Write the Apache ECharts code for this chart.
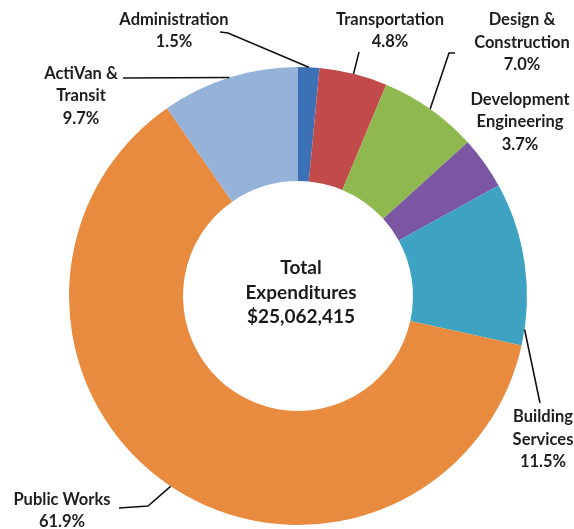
<!DOCTYPE html>
<html>
<head>
<meta charset="utf-8">
<script src="https://cdn.jsdelivr.net/npm/echarts@6/dist/echarts.min.js"></script>
<style>
html,body{margin:0;padding:0;background:#fff;}
#chart{width:574px;height:529px;}
</style>
</head>
<body>
<div id="chart"></div>
<script>
// ---- data ----
const categories = ['Administration', 'Transportation', 'Design &\nConstruction', 'Development\nEngineering', 'Building\nServices', 'Public Works', 'ActiVan &\nTransit'];
const percents = [1.5, 4.8, 7.0, 3.7, 11.5, 61.9, 9.7];
const centerLines = ['Total', 'Expenditures', '$25,062,415'];

// ---- styles / layout ----
const colors = ['#3c72b5', '#c24a4a', '#8fb84f', '#7a56a3', '#3ea3c3', '#e98b3e', '#95b2d8'];
const CX = 298, CY = 296, R_IN = 115, R_OUT = 229;
const FONT = 'Lato, "Open Sans", sans-serif';
// label block centres
const labelPos = [
  [174, 30.5], [390, 30.5], [522, 42.5], [520, 122], [543, 439.5], [62, 510.5], [81, 96]
];
// leader lines: fraction along slice for anchor, plus label-side points
const leaders = [
  {i: 0, frac: 0.5, via: [[220, 32], [228, 33]]},
  {i: 1, frac: 0.5, via: [[359, 52]]},
  {i: 2, frac: 0.5, via: [[455, 53], [449, 53]]},
  {i: 4, frac: 0.9, via: [[540, 403]]},
  {i: 5, frac: 0.5, via: [[119, 508], [148, 506]]},
  {i: 6, frac: 0.5, via: [[123, 78]]}
];

const chart = echarts.init(document.getElementById('chart'), null, {renderer: 'canvas'});
const data = categories.map((c, i) => ({name: c, value: percents[i], itemStyle: {color: colors[i]}}));

const centerText = {
  type: 'text',
  x: 301, y: 292.5,
  style: {
    text: centerLines.join('\n'),
    fontFamily: FONT,
    fontWeight: 'bold',
    fontSize: 19,
    lineHeight: 24.5,
    fill: '#1a1a1a',
    align: 'center',
    verticalAlign: 'middle'
  }
};

chart.setOption({
  backgroundColor: '#ffffff',
  animation: false,
  series: [{
    type: 'pie',
    center: [CX, CY],
    radius: [R_IN, R_OUT],
    startAngle: 90,
    clockwise: true,
    avoidLabelOverlap: false,
    data: data,
    itemStyle: {borderWidth: 0},
    label: {
      show: true,
      position: 'outside',
      formatter: p => p.name + '\n' + p.value.toFixed(1) + '%',
      fontFamily: FONT,
      fontWeight: 'bold',
      fontSize: 16.5,
      lineHeight: 22.5,
      color: '#1e1e1e',
      align: 'center'
    },
    labelLine: {show: false},
    labelLayout: params => ({
      x: labelPos[params.dataIndex][0],
      y: labelPos[params.dataIndex][1],
      align: 'center',
      verticalAlign: 'middle'
    })
  }],
  graphic: [centerText]
});

// leader lines anchored on slice geometry computed by ECharts
const sData = chart.getModel().getSeriesByIndex(0).getData();
const lines = leaders.map(l => {
  const lay = sData.getItemLayout(l.i);
  const a = lay.startAngle + (lay.endAngle - lay.startAngle) * l.frac;
  const anchor = [lay.cx + lay.r * Math.cos(a), lay.cy + lay.r * Math.sin(a)];
  return {
    type: 'polyline',
    shape: {points: l.via.concat([anchor])},
    style: {stroke: '#111', lineWidth: 1.6, fill: null},
    z: 10
  };
});
chart.setOption({graphic: [centerText].concat(lines)});
</script>
</body>
</html>
